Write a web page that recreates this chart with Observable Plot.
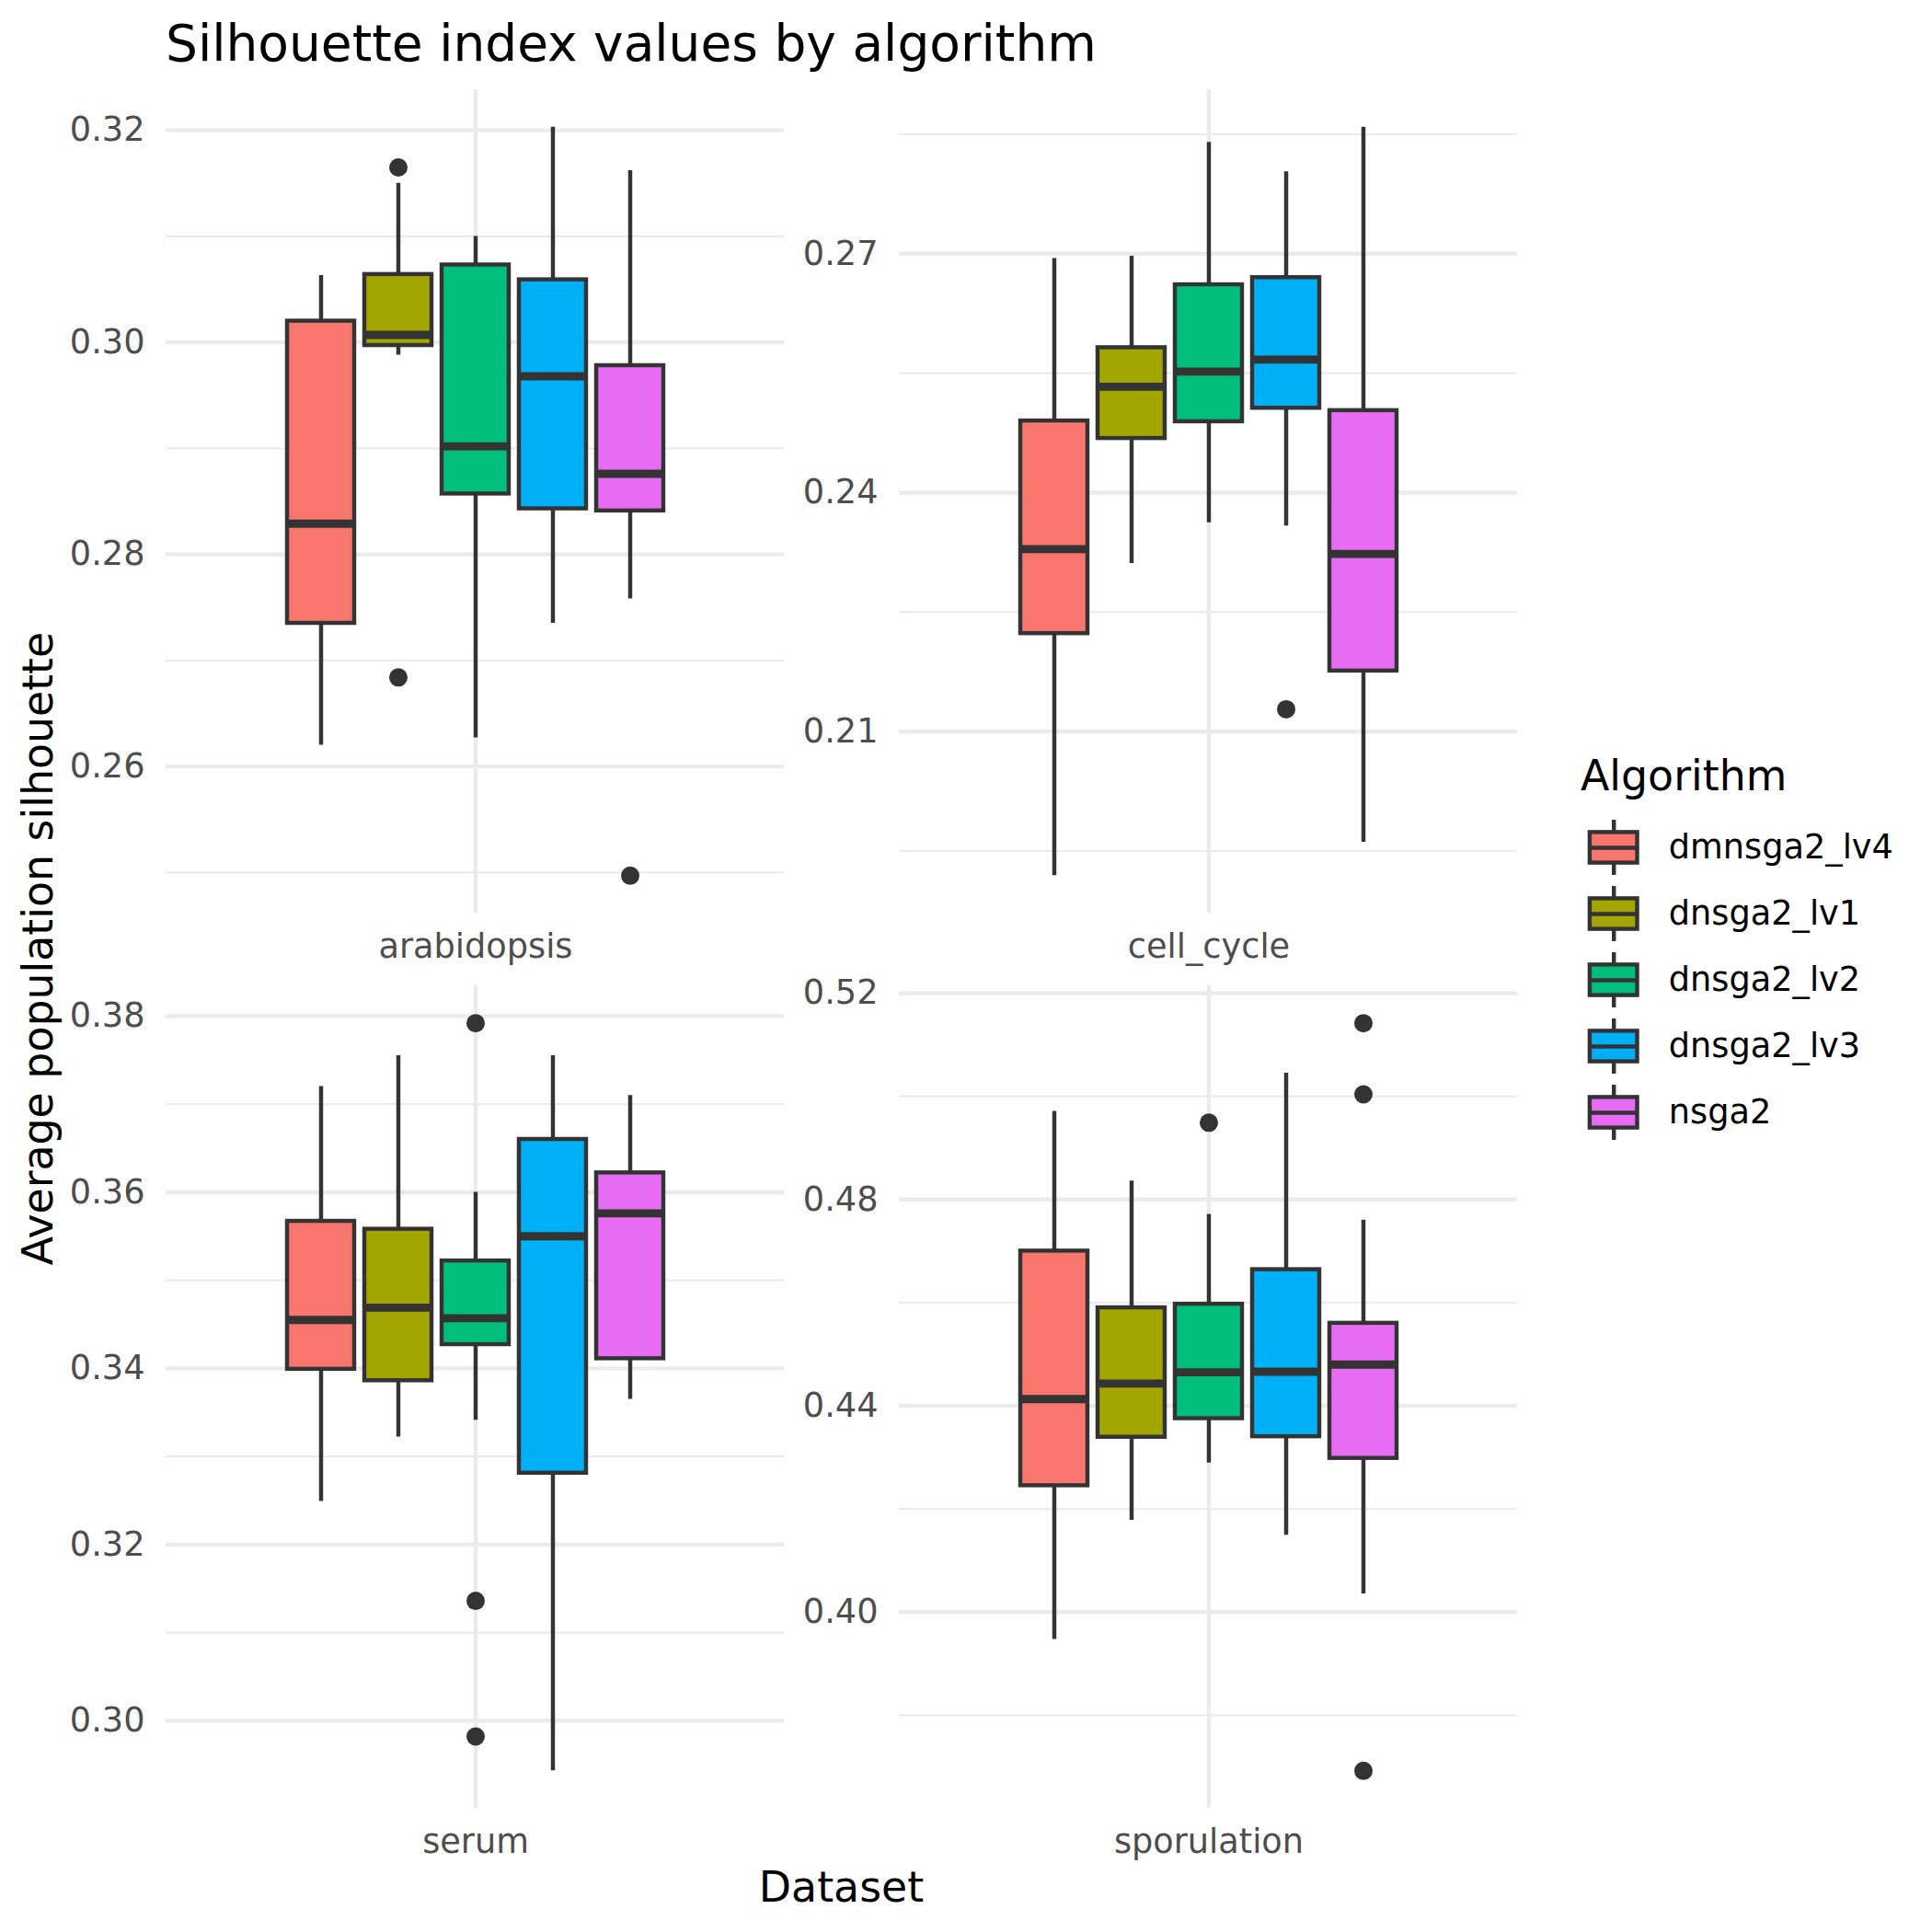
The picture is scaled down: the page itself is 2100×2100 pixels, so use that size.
<!DOCTYPE html>
<html>
<head>
<meta charset="utf-8">
<script src="https://cdn.jsdelivr.net/npm/d3@7"></script>
<script src="https://cdn.jsdelivr.net/npm/@observablehq/plot@0.6"></script>
<style>
  html, body { margin: 0; padding: 0; background: #ffffff; }
  #chart { position: relative; width: 2100px; height: 2100px; background: #ffffff; font-family: "DejaVu Sans", sans-serif; }
  #chart svg.plot-panel { position: absolute; }
</style>
</head>
<body>
<div id="chart"></div>
<script>
// ---------------- data ----------------
const algorithms = ["dmnsga2_lv4", "dnsga2_lv1", "dnsga2_lv2", "dnsga2_lv3", "nsga2"];
const fillColors = ["#F8766D", "#A3A500", "#00BF7D", "#00B0F6", "#E76BF3"];
const datasets = ["arabidopsis", "cell_cycle", "serum", "sporulation"];

// rows: datasets, columns: algorithms
const whiskerLow = [
  [0.2620, 0.2988, 0.2627, 0.2735, 0.2758],
  [0.1919, 0.2311, 0.2362, 0.2358, 0.1961],
  [0.3249, 0.3322, 0.3341, 0.2943, 0.3365],
  [0.3947, 0.4178, 0.4289, 0.4149, 0.4035]
];
const boxQ1 = [
  [0.2735, 0.2997, 0.2857, 0.2843, 0.2841],
  [0.2223, 0.2468, 0.2489, 0.2506, 0.2176],
  [0.3399, 0.3386, 0.3427, 0.3281, 0.3411],
  [0.4245, 0.4339, 0.4375, 0.4340, 0.4298]
];
const boxMedian = [
  [0.2829, 0.3007, 0.2902, 0.2968, 0.2876],
  [0.2329, 0.2533, 0.2552, 0.2567, 0.2323],
  [0.3455, 0.3469, 0.3457, 0.3550, 0.3576],
  [0.4413, 0.4443, 0.4465, 0.4466, 0.4480]
];
const boxQ3 = [
  [0.3020, 0.3064, 0.3073, 0.3059, 0.2978],
  [0.2490, 0.2582, 0.2661, 0.2670, 0.2503],
  [0.3567, 0.3558, 0.3522, 0.3660, 0.3622],
  [0.4700, 0.4590, 0.4597, 0.4664, 0.4560]
];
const whiskerHigh = [
  [0.3063, 0.3150, 0.3100, 0.3203, 0.3162],
  [0.2694, 0.2697, 0.2840, 0.2803, 0.2859],
  [0.3720, 0.3755, 0.3600, 0.3755, 0.3710],
  [0.4971, 0.4836, 0.4771, 0.5045, 0.4760]
];
const outlierDataset   = ["arabidopsis", "arabidopsis", "arabidopsis", "cell_cycle", "serum", "serum", "serum", "sporulation", "sporulation", "sporulation", "sporulation"];
const outlierAlgorithm = ["dnsga2_lv1", "dnsga2_lv1", "nsga2", "dnsga2_lv3", "dnsga2_lv2", "dnsga2_lv2", "dnsga2_lv2", "dnsga2_lv2", "nsga2", "nsga2", "nsga2"];
const outlierValue     = [0.3165, 0.2684, 0.2497, 0.2128, 0.3792, 0.3136, 0.2982, 0.4949, 0.5142, 0.5004, 0.3692];

const majorTicks = [
  [0.26, 0.28, 0.30, 0.32],
  [0.21, 0.24, 0.27],
  [0.30, 0.32, 0.34, 0.36, 0.38],
  [0.40, 0.44, 0.48, 0.52]
];
const minorTicks = [
  [0.25, 0.27, 0.29, 0.31],
  [0.195, 0.225, 0.255, 0.285],
  [0.31, 0.33, 0.35, 0.37],
  [0.38, 0.42, 0.46, 0.50]
];

// ---------------- layout ----------------
const chart = document.getElementById("chart");
const FONT = "DejaVu Sans";
const INK = "#333333";
const GRID = "#EBEBEB";
const LW = 4.44;               // ggplot linewidth 0.5 at 300 dpi
const STEP = 84;               // dodge step (px)
const PAD_INNER = 0.131;       // gives box width ~73px

const svgLeft = [0, 800, 0, 800];
const svgTop = [0, 0, 1000, 1000];
const frameX0 = [180, 977, 180, 977];
const frameX1 = [852, 1649, 852, 1649];
const frameY0 = [97, 97, 1071, 1071];
const frameY1 = [992, 992, 1965, 1965];
const SVG_W = 900, SVG_H = 1060;

const colorScale = {domain: algorithms, range: fillColors};

datasets.forEach((ds, k) => {
  const boxes = algorithms.map((a, i) => ({
    alg: a,
    lo: whiskerLow[k][i], q1: boxQ1[k][i], med: boxMedian[k][i], q3: boxQ3[k][i], hi: whiskerHigh[k][i]
  }));
  const outs = outlierValue.map((v, j) => ({ds: outlierDataset[j], alg: outlierAlgorithm[j], v}))
    .filter(d => d.ds === ds);
  const allVals = boxes.flatMap(b => [b.lo, b.hi]).concat(outs.map(d => d.v));
  const lo = d3.min(allVals), hi = d3.max(allVals), span = hi - lo;
  const cx = (frameX0[k] + frameX1[k]) / 2 - svgLeft[k];

  const p = Plot.plot({
    width: SVG_W,
    height: SVG_H,
    marginLeft: frameX0[k] - svgLeft[k],
    marginRight: svgLeft[k] + SVG_W - frameX1[k],
    marginTop: frameY0[k] - svgTop[k],
    marginBottom: svgTop[k] + SVG_H - frameY1[k],
    style: {fontFamily: FONT, background: "transparent", overflow: "visible"},
    x: {type: "band", domain: algorithms, range: [cx - 2.5 * STEP, cx + 2.5 * STEP], paddingInner: PAD_INNER, paddingOuter: PAD_INNER / 2},
    y: {domain: [lo - 0.05 * span, hi + 0.05 * span]},
    color: colorScale,
    marks: [
      Plot.gridY({ticks: minorTicks[k], stroke: GRID, strokeOpacity: 1, strokeWidth: LW / 2}),
      Plot.gridY({ticks: majorTicks[k], stroke: GRID, strokeOpacity: 1, strokeWidth: LW}),
      Plot.gridX({ticks: [algorithms[2]], stroke: GRID, strokeOpacity: 1, strokeWidth: LW}),
      Plot.axisY({ticks: majorTicks[k], tickSize: 0, tickPadding: 23, tickFormat: d3.format(".2f"), fontSize: 36.7, fill: "#4D4D4D", label: null}),
      Plot.axisX({ticks: [algorithms[2]], tickSize: 0, tickPadding: 22.5, tickFormat: () => ds, fontSize: 36.7, fill: "#4D4D4D", label: null}),
      Plot.ruleX(boxes, {x: "alg", y1: "lo", y2: "hi", stroke: INK, strokeWidth: LW}),
      Plot.barY(boxes, {x: "alg", y1: "q1", y2: "q3", fill: "alg", stroke: INK, strokeWidth: LW}),
      Plot.tickY(boxes, {x: "alg", y: "med", stroke: INK, strokeWidth: 2 * LW}),
      Plot.dot(outs, {x: "alg", y: "v", r: 10, fill: INK, stroke: null})
    ]
  });
  p.classList.add("plot-panel");
  p.style.left = svgLeft[k] + "px";
  p.style.top = svgTop[k] + "px";
  chart.appendChild(p);
});

// ---------------- legend (drawn with Plot using the same colour scale) ----------------
const LEG_L = 1700, LEG_T = 850, LEG_W = 400, LEG_H = 420;
const KEY_STEP = 72.2, KEY0 = 921 - LEG_T;
const legend = Plot.plot({
  width: LEG_W,
  height: LEG_H,
  margin: 0,
  style: {fontFamily: FONT, background: "transparent", overflow: "visible"},
  x: {domain: [0, 1], range: [1725.7 + 2.2 - LEG_L, 1781.7 - 2.2 - LEG_L], axis: null},
  y: {type: "band", domain: algorithms, range: [KEY0 - KEY_STEP / 2, KEY0 + 4.5 * KEY_STEP], padding: 0, axis: null},
  color: colorScale,
  marks: [
    Plot.tickX(algorithms, {x: 0.5, y: d => d, insetTop: 6, insetBottom: 6, stroke: INK, strokeWidth: LW}),
    Plot.barX(algorithms, {x1: 0, x2: 1, y: d => d, fill: d => d, stroke: INK, strokeWidth: LW, insetTop: 19.4, insetBottom: 19.4}),
    Plot.ruleY(algorithms, {y: d => d, x1: 0, x2: 1, stroke: INK, strokeWidth: LW}),
    Plot.text(algorithms, {x: 1, y: d => d, text: d => d, textAnchor: "start", dx: 33.8, fontSize: 36.7, fill: "#000000"})
  ]
});
legend.classList.add("plot-panel");
legend.style.left = LEG_L + "px";
legend.style.top = LEG_T + "px";
chart.appendChild(legend);

// ---------------- titles ----------------
const overlay = d3.select(chart).append("svg")
  .attr("width", 2100).attr("height", 2100)
  .style("position", "absolute").style("left", "0px").style("top", "0px")
  .style("pointer-events", "none")
  .attr("font-family", FONT);

overlay.append("text")
  .attr("x", 180).attr("y", 66)
  .attr("font-size", 55).attr("fill", "#000")
  .text("Silhouette index values by algorithm");

overlay.append("text")
  .attr("transform", "translate(57,1031) rotate(-90)")
  .attr("text-anchor", "middle")
  .attr("font-size", 45.8).attr("fill", "#000")
  .text("Average population silhouette");

overlay.append("text")
  .attr("x", 914.5).attr("y", 2067)
  .attr("text-anchor", "middle")
  .attr("font-size", 45.8).attr("fill", "#000")
  .text("Dataset");

overlay.append("text")
  .attr("x", 1718).attr("y", 859)
  .attr("font-size", 45.8).attr("fill", "#000")
  .text("Algorithm");
</script>
</body>
</html>
